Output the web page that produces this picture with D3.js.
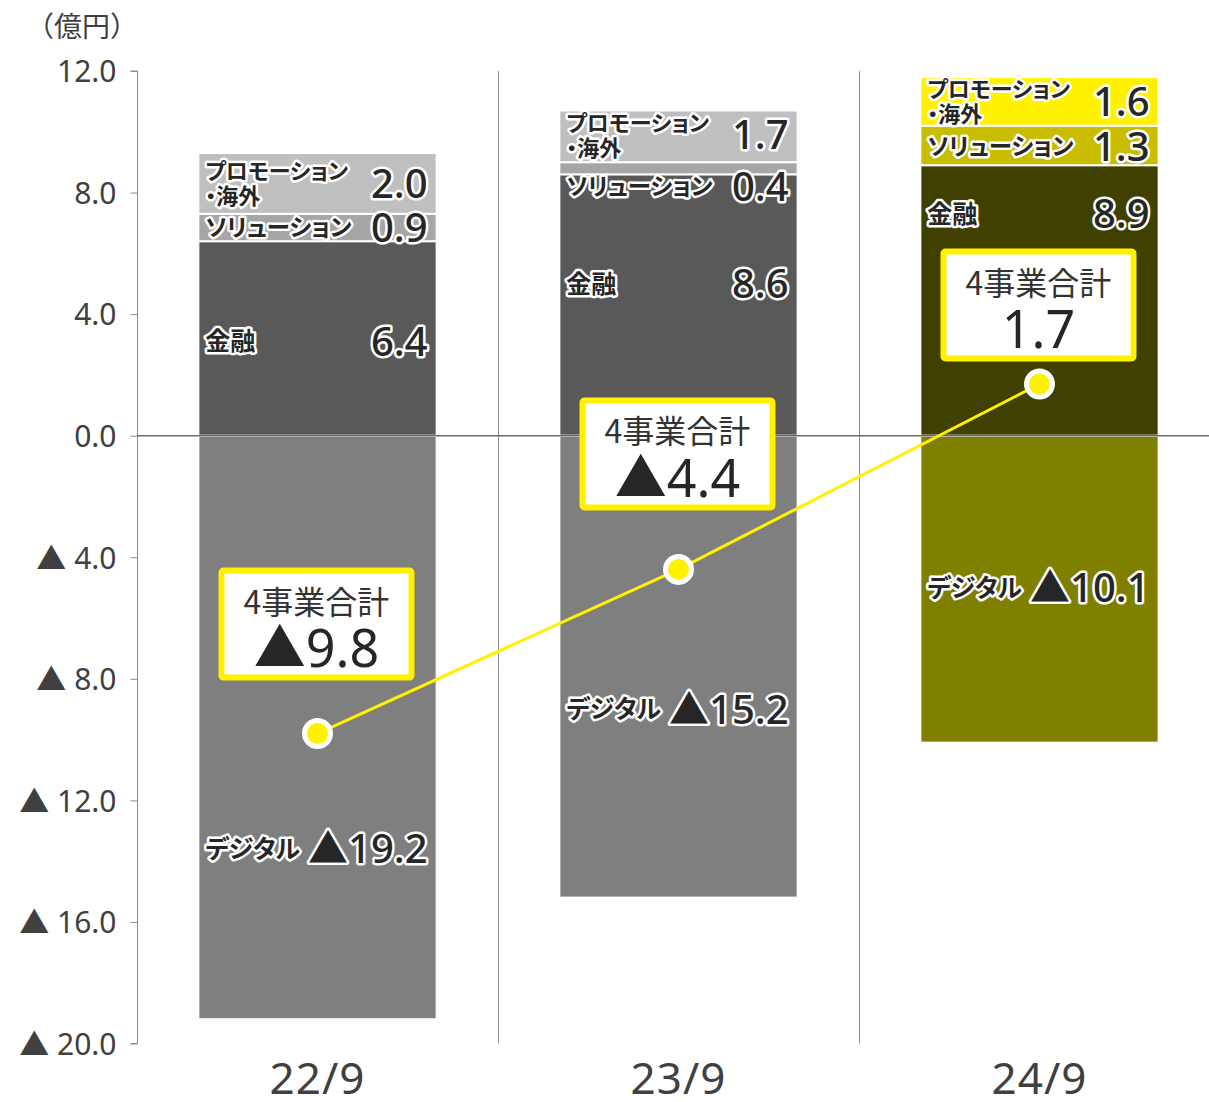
<!DOCTYPE html>
<html><head><meta charset="utf-8">
<script src="https://cdn.jsdelivr.net/npm/d3@7"></script>
<style>
html,body{margin:0;padding:0;background:#fff;}
svg{display:block;}
.lbl{font-family:"Noto Sans CJK JP",sans-serif;font-weight:700;font-feature-settings:"palt";fill:#262626;stroke:#fff;stroke-width:5px;stroke-linejoin:round;paint-order:stroke;}
.val{font-family:"Noto Sans","Noto Sans CJK JP",sans-serif;font-weight:500;fill:#262626;stroke:#fff;stroke-width:5px;stroke-linejoin:round;paint-order:stroke;}
</style>
</head><body>
<svg id="chart" width="1209" height="1102"></svg>
<script>
// ---- data ----
const categories = ["22/9", "23/9", "24/9"];
const segmentNames = ["デジタル", "金融", "ソリューション", "プロモーション・海外"];
const digital   = [-19.2, -15.2, -10.1];
const finance   = [6.4, 8.6, 8.9];
const solution  = [0.9, 0.4, 1.3];
const promotion = [2.0, 1.7, 1.6];
const total     = [-9.8, -4.4, 1.7];
const yTicks    = [12, 8, 4, 0, -4, -8, -12, -16, -20];
const totalTitle = "4事業合計";
const unitLabel = "（億円）";

// ---- layout (positions in value units) ----
const labelPos = {
  promotion: [8.3, 9.9, 11.0],
  solution:  [6.85, 8.2, 9.5],
  finance:   [3.1, 5.0, 7.3],
  digital:   [-13.6, -9.0, -5.0]
};
const boxCenter = [-6.2, -0.6, 4.3];
const grayColors = ["#7f7f7f", "#595959", "#a6a6a6", "#bfbfbf"];
const yellowColors = ["#808000", "#404000", "#c8bd00", "#fff100"];
const YEL = "#fff100";

const svg = d3.select("#chart");
const y = d3.scaleLinear().domain([-20, 12]).range([1043.5, 71]);
const x = d3.scaleBand().domain(categories).range([137, 1220]).paddingInner(0.34).paddingOuter(0.17);
const step = x.step(), bw = x.bandwidth();

const fmt = v => (v < 0 ? "▲" : "") + Math.abs(v).toFixed(1);

// separators
categories.slice(1).forEach(c => {
  const sx = Math.round(x(c) - (step - bw) / 2) + 0.5;
  svg.append("line").attr("x1", sx).attr("x2", sx).attr("y1", y(12)).attr("y2", y(-20))
    .attr("stroke", "#8c8c8c").attr("stroke-width", 1);
});

// y axis
const yAxis = d3.axisLeft(y).tickValues(yTicks).tickSize(7).tickPadding(14)
  .tickFormat(v => v < 0 ? "▲ " + Math.abs(v).toFixed(1) : v.toFixed(1));
const ax = svg.append("g").attr("transform", "translate(137.5,0)").call(yAxis);
ax.select(".domain").attr("stroke", "#8c8c8c").attr("d", `M-7,${y(12)}H0V${y(-20)}H-7`);
ax.selectAll(".tick line").attr("stroke", "#8c8c8c");
ax.selectAll(".tick text").attr("fill", "#404040").attr("font-size", 30)
  .attr("font-family", "'Noto Sans', 'Noto Sans CJK JP', sans-serif").attr("font-weight", 400)
  .attr("dy", "0.36em");

svg.append("text").attr("x", 26).attr("y", 37).text(unitLabel)
  .attr("font-family", "'Noto Sans CJK JP', sans-serif").attr("font-size", 28).attr("fill", "#404040");

// stacked bars
const rows = categories.map((c, i) => ({
  cat: c, i,
  segs: [
    { key: "digital", y0: 0, y1: digital[i] },
    { key: "finance", y0: 0, y1: finance[i] },
    { key: "solution", y0: finance[i], y1: finance[i] + solution[i] },
    { key: "promotion", y0: finance[i] + solution[i], y1: finance[i] + solution[i] + promotion[i] }
  ]
}));
rows.forEach(r => {
  const cols = r.i === 2 ? yellowColors : grayColors;
  r.segs.forEach((s, k) => {
    svg.append("rect").attr("x", x(r.cat)).attr("width", bw)
      .attr("y", y(Math.max(s.y0, s.y1))).attr("height", Math.abs(y(s.y0) - y(s.y1)))
      .attr("fill", cols[k]).attr("stroke", "#fff").attr("stroke-width", 2);
  });
});

// zero line
svg.append("line").attr("x1", 137).attr("x2", 1209).attr("y1", y(0)).attr("y2", y(0))
  .attr("stroke", "#6b6b6b").attr("stroke-width", 1.5);

// segment labels
const series = { digital, finance, solution, promotion };
const names = { digital: segmentNames[0], finance: segmentNames[1], solution: segmentNames[2], promotion: segmentNames[3] };
rows.forEach(r => {
  const lx = x(r.cat) + 7, rx = x(r.cat) + bw - 9;
  ["digital", "finance", "solution", "promotion"].forEach(key => {
    const cy = y(labelPos[key][r.i]);
    if (key === "promotion") {
      const parts = ["プロモーション", "・海外"];
      svg.append("text").attr("class", "lbl").attr("x", lx).attr("y", cy - 12).attr("dy", "0.36em")
        .attr("font-size", 22).text(parts[0]);
      svg.append("text").attr("class", "lbl").attr("x", lx).attr("y", cy + 13).attr("dy", "0.36em")
        .attr("font-size", 22).text(parts[1]);
    } else {
      svg.append("text").attr("class", "lbl").attr("x", lx).attr("y", cy).attr("dy", "0.36em")
        .attr("font-size", key === "solution" ? 23.5 : 25).text(names[key]);
    }
    svg.append("text").attr("class", "val").attr("x", rx).attr("y", cy).attr("dy", "0.36em")
      .attr("text-anchor", "end").attr("font-size", 40).text(fmt(series[key][r.i]));
  });
});

// total line
const cx = c => x(c) + bw / 2;
svg.append("path").datum(total)
  .attr("d", d3.line().x((d, i) => cx(categories[i])).y(d => y(d)))
  .attr("fill", "none").attr("stroke", YEL).attr("stroke-width", 3);
svg.selectAll(".pt").data(total).join("circle").attr("class", "pt")
  .attr("cx", (d, i) => cx(categories[i])).attr("cy", d => y(d)).attr("r", 13)
  .attr("fill", YEL).attr("stroke", "#fff").attr("stroke-width", 5);

// callout boxes
const bwBox = 190, bhBox = 107;
total.forEach((v, i) => {
  const bx = cx(categories[i]) - 1, by = y(boxCenter[i]);
  const g = svg.append("g");
  g.append("rect").attr("x", bx - bwBox / 2).attr("y", by - bhBox / 2).attr("width", bwBox).attr("height", bhBox)
    .attr("fill", "#fff").attr("stroke", YEL).attr("stroke-width", 6).attr("rx", 2);
  g.append("text").attr("x", bx).attr("y", by - 22).attr("dy", "0.36em").attr("text-anchor", "middle")
    .attr("font-family", "'Noto Sans CJK JP', sans-serif").attr("font-size", 32).attr("fill", "#333")
    .text(totalTitle);
  g.append("text").attr("x", bx).attr("y", by + 24).attr("dy", "0.36em").attr("text-anchor", "middle")
    .attr("font-family", "'Noto Sans', 'Noto Sans CJK JP', sans-serif").attr("font-size", 52).attr("fill", "#262626")
    .text(fmt(v));
});

// x labels
svg.selectAll(".xl").data(categories).join("text").attr("class", "xl")
  .attr("x", c => cx(c)).attr("y", 1078).attr("dy", "0.36em").attr("text-anchor", "middle")
  .attr("font-family", "'Noto Sans', sans-serif").attr("font-size", 44).attr("fill", "#404040")
  .attr("letter-spacing", 1)
  .text(c => c);
</script>
</body></html>
